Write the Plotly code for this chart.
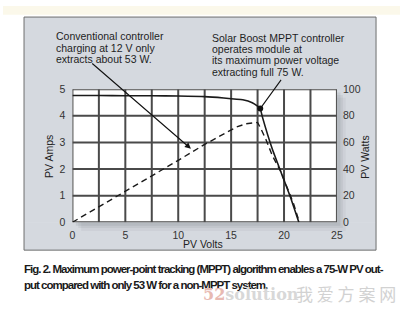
import plotly.graph_objects as go

# ---------------- data ----------------
iv_volts = [0, 2.5, 5, 7.5, 10, 12.5, 14.3, 16.1, 17.0, 17.5, 17.75, 17.96, 18.9, 19.8, 20.6, 21.4]
iv_amps = [4.76, 4.76, 4.75, 4.75, 4.74, 4.72, 4.67, 4.60, 4.49, 4.36, 4.27, 3.95, 2.74, 1.79, 0.95, 0.0]

pw_volts = [0, 2.5, 5, 7.5, 10, 12.5, 14.3, 15.5, 16.4, 17.5, 17.8, 18.3, 18.9, 19.7, 20.3, 20.9, 21.45]
pw_watts = [0, 11.5, 23, 35, 46.5, 58.5, 66, 71.5, 74, 75, 70.5, 62, 50, 38, 26, 14, 0]

mpp_volts, mpp_amps = 17.75, 4.27          # maximum power point (75 W)
conv_volts, conv_amps = 11.2, 2.76         # 12 V charging point (~53 W)

x_ticks = [0, 5, 10, 15, 20, 25]
x_grid = [0, 2.5, 5, 7.5, 10, 12.5, 15, 17.5, 20, 22.5, 25]
y_ticks = [0, 1, 2, 3, 4, 5]
y2_ticks = [0, 20, 40, 60, 80, 100]

left_text = ["Conventional controller", "charging at 12 V only", "extracts about 53 W."]
right_text = ["Solar Boost MPPT controller", "operates module at",
              "its maximum power voltage", "extracting full 75 W."]
caption = ["Fig. 2. Maximum power-point tracking (MPPT) algorithm enables a 75-W PV out-",
           "put compared with only 53 W for a non-MPPT system."]

# ---------------- layout helpers ----------------
W, H = 406, 309
def px(x): return x / W
def py(y): return 1 - y / H

PX0, PX1, PY0, PY1 = 71, 341.5, 225, 86.5   # plot area pixel box
BX0, BX1, BY0, BY1 = 21.5, 381.5, 11.5, 254  # grey panel box
def vx(v): return PX0 + (PX1 - PX0) * v / 25
def ay_(a): return PY0 - (PY0 - PY1) * a / 5

FONT = "Liberation Sans, Arial, sans-serif"
GRID = "#4a4a4a"
PANEL = "#d5d9df"

# grid built from the tick positions, drawn through the axes' scales
gx, gy = [], []
for v in x_grid:
    gx += [v, v, None]
    gy += [y_ticks[0], y_ticks[-1], None]
for a in y_ticks:
    gx += [x_grid[0], x_grid[-1], None]
    gy += [a, a, None]

fig = go.Figure()
fig.add_trace(go.Scatter(x=gx, y=gy, mode="lines", line=dict(color=GRID, width=2),
                         yaxis="y", showlegend=False, hoverinfo="skip", cliponaxis=False))
fig.add_trace(go.Scatter(x=iv_volts, y=iv_amps, mode="lines",
                         line=dict(color="#1a1a1a", width=1.6, shape="spline", smoothing=0.4),
                         yaxis="y", showlegend=False, hoverinfo="skip"))
fig.add_trace(go.Scatter(x=pw_volts, y=pw_watts, mode="lines",
                         line=dict(color="#1a1a1a", width=1.4, dash="6px,4px"),
                         yaxis="y2", showlegend=False, hoverinfo="skip"))
fig.add_trace(go.Scatter(x=[mpp_volts], y=[mpp_amps], mode="markers",
                         marker=dict(color="#111", size=6),
                         yaxis="y", showlegend=False, hoverinfo="skip"))

def prect(x0, y0, x1, y1, fill, line=None):
    return dict(type="rect", xref="paper", yref="paper", x0=px(x0), x1=px(x1),
                y0=py(y1), y1=py(y0), fillcolor=fill,
                line=line or dict(width=0), layer="below")

shapes = []
shapes.append(prect(0, 0, W, 9, "#fbf8ea"))
shapes.append(prect(BX0, BY0, BX1, PY1, PANEL))
shapes.append(prect(BX0, PY0, BX1, BY1, PANEL))
shapes.append(prect(BX0, PY1 - 0.5, PX0, PY0 + 0.5, PANEL))
shapes.append(prect(PX1, PY1 - 0.5, BX1, PY0 + 0.5, PANEL))
for off, a in [(9, 0.05), (6, 0.07), (3.5, 0.09)]:
    shapes.append(prect(PX1, PY1 + off, PX1 + off, PY0 + off, f"rgba(60,65,75,{a})"))
    shapes.append(prect(PX0 + off, PY0, PX1, PY0 + off, f"rgba(60,65,75,{a})"))
shapes.append(dict(type="rect", xref="paper", yref="paper", x0=px(BX0), x1=px(BX1),
                   y0=py(BY1), y1=py(BY0), fillcolor="rgba(0,0,0,0)",
                   line=dict(color="#6e6e6e", width=1), layer="below"))

annotations = []
def txt(t, x, y, size=10.5, color="#1e1e1e", family=FONT, anchor="left", angle=0):
    annotations.append(dict(text=t, xref="paper", yref="paper", x=px(x), y=py(y),
                            xanchor=anchor, yanchor="middle", showarrow=False,
                            textangle=angle, borderpad=0, borderwidth=0,
                            font=dict(family=family, size=size, color=color)))

for i, t in enumerate(left_text):
    txt(t, 54, 31.5 + 11.8 * i)
for i, t in enumerate(right_text):
    txt(t, 214, 33.3 + 11.7 * i)

annotations.append(dict(x=conv_volts, y=conv_amps, xref="x", yref="y",
                        ax=92 - vx(conv_volts), ay=62 - ay_(conv_amps),
                        axref="pixel", ayref="pixel",
                        showarrow=True, arrowhead=2, arrowsize=1.1, arrowwidth=1.1,
                        arrowcolor="#111", text="", standoff=0))
annotations.append(dict(x=mpp_volts, y=mpp_amps, xref="x", yref="y",
                        ax=285 - vx(mpp_volts), ay=76.5 - ay_(mpp_amps),
                        axref="pixel", ayref="pixel",
                        showarrow=True, arrowhead=0, arrowwidth=1.1,
                        arrowcolor="#111", text="", standoff=0))

txt("PV Amps", 47, 156, color="#222", anchor="center", angle=-90)
txt("PV Watts", 370, 157, color="#222", anchor="center", angle=-90)
txt("PV Volts", 205, 248, color="#222", anchor="center")

for i, t in enumerate(caption):
    annotations.append(dict(text="<span style='letter-spacing:-1px'><b>" + t + "</b></span>",
                            xref="paper", yref="paper", x=px(21),
                            y=py(273.5 + 16.5 * i), xanchor="left", yanchor="middle",
                            showarrow=False, borderpad=0, borderwidth=0,
                            font=dict(family=FONT, size=11.5, color="#1a1a1a")))

annotations.append(dict(text="<b><span style='color:#e8bab2'>52</span>solution</b>",
                        xref="paper", yref="paper", x=px(203), y=py(300),
                        xanchor="left", yanchor="middle", showarrow=False, borderpad=0,
                        font=dict(family="DejaVu Serif, Liberation Serif, serif", size=16,
                                  color="#d8d8d8")))
annotations.append(dict(text="我 爱 方 案 网", xref="paper", yref="paper", x=px(299), y=py(299),
                        xanchor="left", yanchor="middle", showarrow=False, borderpad=0,
                        font=dict(family="Noto Sans CJK SC", size=17, color="#d2d2d2")))

tickfont = dict(family=FONT, size=10.5, color="#333")
fig.update_layout(
    width=W, height=H, margin=dict(l=0, r=0, t=0, b=0),
    paper_bgcolor="white", plot_bgcolor="white",
    shapes=shapes, annotations=annotations,
    xaxis=dict(domain=[px(PX0), px(PX1)], range=[0, 25], tickvals=x_ticks,
               showgrid=False, showline=False, zeroline=False,
               ticks="outside", ticklen=3, tickcolor="rgba(0,0,0,0)", tickfont=tickfont),
    yaxis=dict(domain=[py(PY0), py(PY1)], range=[0, 5], tickvals=y_ticks,
               showgrid=False, showline=False, zeroline=False,
               ticks="outside", ticklen=4, tickcolor="rgba(0,0,0,0)", tickfont=tickfont),
    yaxis2=dict(overlaying="y", side="right", anchor="x", range=[0, 100], tickvals=y2_ticks,
                showgrid=False, zeroline=False, showline=False,
                ticks="outside", ticklen=3, tickcolor="rgba(0,0,0,0)", tickfont=tickfont),
)

fig.write_html("out.html")
